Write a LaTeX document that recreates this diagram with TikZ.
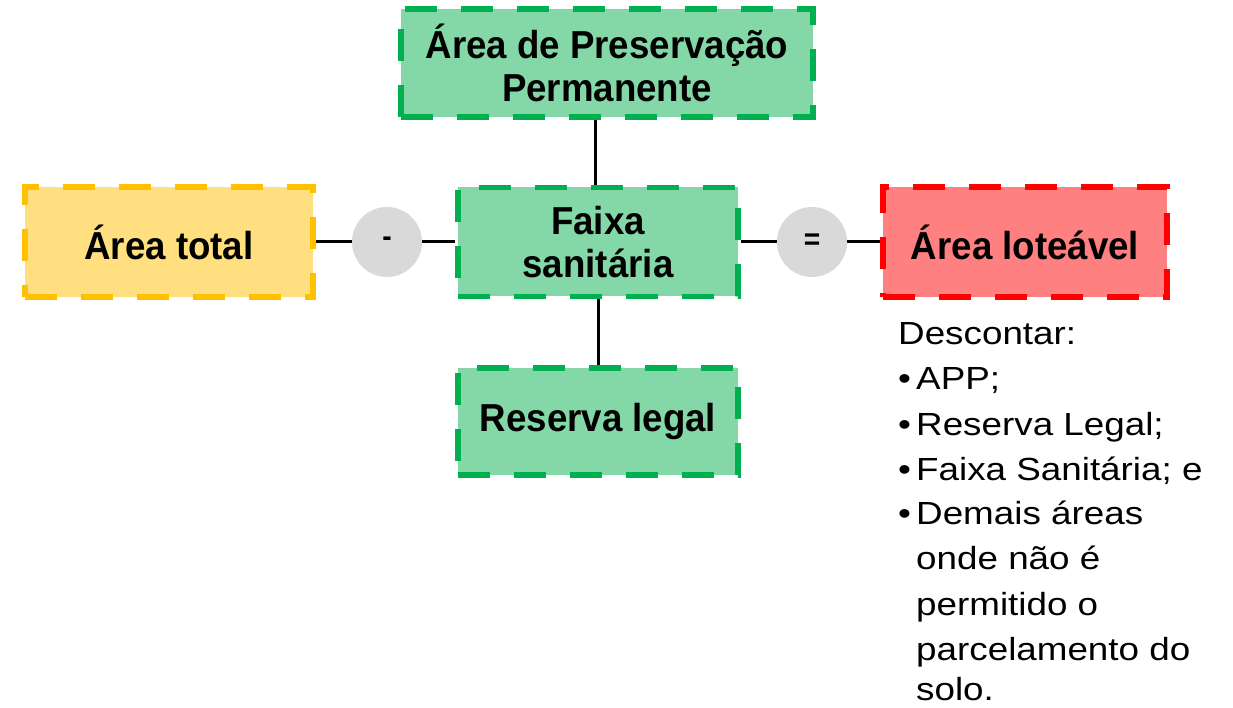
\documentclass[tikz,border=0pt]{standalone}
\usepackage{fontspec}
\newfontfamily\lsans[FakeStretch=1.15]{Liberation Sans}
\newfontfamily\bsans[FakeStretch=0.94]{Liberation Sans}
\definecolor{gfill}{HTML}{84D8A8}
\definecolor{gline}{HTML}{00B050}
\definecolor{yfill}{HTML}{FFDF80}
\definecolor{yline}{HTML}{FFC000}
\definecolor{rfill}{HTML}{FF8080}
\definecolor{rline}{HTML}{FF0000}
\definecolor{cfill}{HTML}{D9D9D9}
\begin{document}
\begin{tikzpicture}[x=1pt,y=-1pt,
  box/.style={rectangle, line width=5.5pt, dash pattern=on 32pt off 24pt, inner sep=0pt, align=center,
     font=\bsans\bfseries\fontsize{39}{43}\selectfont},
  gbox/.style={box, fill=gfill, draw=gline},
  op/.style={circle, fill=cfill, minimum size=70pt, inner sep=0pt, font=\bsans\bfseries\fontsize{30}{30}\selectfont},
  conn/.style={line width=3pt, black},
  lst/.style={anchor=base west, inner sep=0pt, font=\lsans\fontsize{32}{45}\selectfont}]
\useasboundingbox (0,0) rectangle (1233,708);
\node[gbox, minimum width=412pt, minimum height=108pt] (app) at (607,63) {Área de Preservação\\Permanente};
\node[box, fill=yfill, draw=yline, minimum width=288pt, minimum height=110pt] (total) at (169,242) {Área total};
\node[op] (minus) at (387,242) {-};
\node[gbox, minimum width=280pt, minimum height=109pt] (faixa) at (598,242) {Faixa\\sanitária};
\node[op] (eq) at (812,242) {=};
\node[box, fill=rfill, draw=rline, minimum width=284pt, minimum height=110pt] (lot) at (1025,242) {Área loteável};
\node[gbox, minimum width=280pt, minimum height=107pt] (res) at (598,421.5) {Reserva legal};
\draw[conn] (total.east) -- (minus.west);
\draw[conn] (minus.east) -- (faixa.west);
\draw[conn] (faixa.east) -- (eq.west);
\draw[conn] (eq.east) -- (lot.west);
\draw[conn] ([xshift=-3pt]faixa.north) -- ([xshift=-3pt]faixa.north |- app.south);
\draw[conn] (faixa.south) -- (res.north);
\node[lst] (l1) at (898,344) {Descontar:};
\node[lst] (l2) at (898,389) {\makebox[18pt][l]{•}APP;};
\node[lst] (l3) at (898,435) {\makebox[18pt][l]{•}Reserva Legal;};
\node[lst] (l4) at (898,480) {\makebox[18pt][l]{•}Faixa Sanitária; e};
\node[lst] (l5) at (898,524) {\makebox[18pt][l]{•}Demais áreas};
\node[lst] (l6) at (916,569) {onde não é};
\node[lst] (l7) at (916,615) {permitido o};
\node[lst] (l8) at (916,660) {parcelamento do};
\node[lst] (l9) at (916,700) {solo.};
\end{tikzpicture}
\end{document}
